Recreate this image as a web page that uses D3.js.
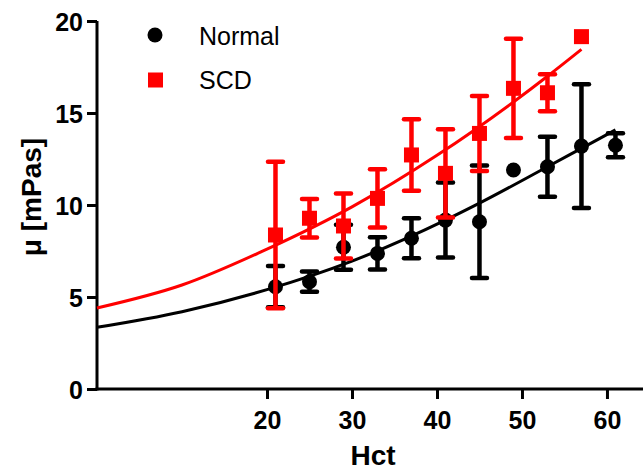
<!DOCTYPE html>
<html>
<head>
<meta charset="utf-8">
<script src="https://cdn.jsdelivr.net/npm/d3@7"></script>
<style>
  body { margin: 0; background: #fff; }
  svg { display: block; font-family: Arial, "Liberation Sans", sans-serif; }
</style>
</head>
<body>
<div id="chart"></div>
<script>
const W = 643;
const H = 473;

// measured values
const hctNormal = [21, 25, 29, 33, 37, 41, 45, 49, 53, 57, 61];
const muNormal = [5.56, 5.83, 7.7, 7.37, 8.19, 9.18, 9.09, 11.9, 12.08, 13.2, 13.25];
const errNormal = [1.12, 0.55, 1.22, 0.88, 1.09, 2.04, 3.06, 0, 1.63, 3.36, 0.65];

const hctSCD = [21, 25, 29, 33, 37, 41, 45, 49, 53, 57];
const muSCD = [8.37, 9.28, 8.86, 10.36, 12.72, 11.72, 13.89, 16.34, 16.1, 19.15];
const errSCD = [3.98, 1.05, 1.77, 1.58, 1.94, 2.4, 2.04, 2.7, 1.0, 0];

// fitted curves
const fitNormalX = [0, 10, 20, 30, 41, 45, 53, 57, 61];
const fitNormalY = [3.35, 4.2, 5.4, 6.95, 9.18, 10.1, 12.08, 13.08, 14.08];
const fitSCDX = [0, 10, 20, 30, 40, 49, 53, 57];
const fitSCDY = [4.4, 5.65, 7.6, 9.9, 12.7, 15.6, 17.0, 18.46];

const xTicks = [20, 30, 40, 50, 60];
const yTicks = [0, 5, 10, 15, 20];

const LEFT = 97, RIGHT = 643, TOP = 21, BOTTOM = 389;

const x = d3.scaleLinear().domain([0, 64.24]).range([LEFT, RIGHT]);
const y = d3.scaleLinear().domain([0, 20]).range([BOTTOM, TOP]);

const svg = d3.select("#chart").append("svg")
  .attr("width", W).attr("height", H);

// axes
const xAxis = svg.append("g")
  .attr("transform", `translate(0,${BOTTOM})`)
  .call(d3.axisBottom(x).tickValues(xTicks).tickSize(10).tickPadding(12).tickSizeOuter(0));
const yAxis = svg.append("g")
  .attr("transform", `translate(${LEFT},0)`)
  .call(d3.axisLeft(y).tickValues(yTicks).tickSize(10).tickPadding(4).tickSizeOuter(0));

[xAxis, yAxis].forEach(g => {
  g.select(".domain").attr("stroke", "#000").attr("stroke-width", 3);
  g.selectAll(".tick line").attr("stroke", "#000").attr("stroke-width", 3);
  g.selectAll(".tick text")
    .attr("fill", "#000")
    .style("font-size", "25px")
    .style("font-weight", "bold");
});
xAxis.select(".domain").attr("d", `M${LEFT - 1.5},0H${RIGHT}`);
yAxis.select(".domain").attr("d", `M0,${TOP}V${BOTTOM + 1.5}`);
yAxis.selectAll(".tick text").attr("dy", "0.36em");

// axis labels
svg.append("text")
  .attr("x", 373).attr("y", 465)
  .attr("text-anchor", "middle")
  .style("font-size", "28px").style("font-weight", "bold")
  .text("Hct");

svg.append("text")
  .attr("transform", "translate(41,197) rotate(-90)")
  .attr("text-anchor", "middle")
  .style("font-size", "28px").style("font-weight", "bold")
  .text("μ [mPas]");

const line = d3.line()
  .x(d => x(d[0]))
  .y(d => y(d[1]))
  .curve(d3.curveMonotoneX);

function drawSeries(xs, ys, errs, fx, fy, color, shape) {
  const pts = xs.map((v, i) => ({ x: v, y: ys[i], e: errs[i] }));
  const g = svg.append("g");

  g.append("path")
    .datum(fx.map((v, i) => [v, fy[i]]))
    .attr("d", line)
    .attr("fill", "none")
    .attr("stroke", color)
    .attr("stroke-width", 3);

  const bars = g.selectAll(".err").data(pts.filter(d => d.e > 0)).join("g");
  bars.append("line")
    .attr("x1", d => x(d.x)).attr("x2", d => x(d.x))
    .attr("y1", d => y(d.y + d.e)).attr("y2", d => y(d.y - d.e))
    .attr("stroke", color).attr("stroke-width", 4.5);
  [1, -1].forEach(s => {
    bars.append("line")
      .attr("x1", d => x(d.x) - 7.5).attr("x2", d => x(d.x) + 7.5)
      .attr("y1", d => y(d.y + s * d.e)).attr("y2", d => y(d.y + s * d.e))
      .attr("stroke", color).attr("stroke-width", 4.5)
      .attr("stroke-linecap", "round");
  });

  if (shape === "circle") {
    g.selectAll(".pt").data(pts).join("circle")
      .attr("cx", d => x(d.x)).attr("cy", d => y(d.y))
      .attr("r", 7.5).attr("fill", color);
  } else {
    g.selectAll(".pt").data(pts).join("rect")
      .attr("x", d => x(d.x) - 7.5).attr("y", d => y(d.y) - 7.5)
      .attr("width", 15).attr("height", 15).attr("fill", color);
  }
}

drawSeries(hctNormal, muNormal, errNormal, fitNormalX, fitNormalY, "#000", "circle");
drawSeries(hctSCD, muSCD, errSCD, fitSCDX, fitSCDY, "#ff0000", "square");

// legend
const legend = svg.append("g");
legend.append("circle").attr("cx", 155).attr("cy", 35).attr("r", 7.5).attr("fill", "#000");
legend.append("rect").attr("x", 148).attr("y", 72.5).attr("width", 15).attr("height", 15).attr("fill", "#ff0000");
legend.append("text").attr("x", 199).attr("y", 45)
  .style("font-size", "25px").text("Normal");
legend.append("text").attr("x", 199).attr("y", 89)
  .style("font-size", "25px").text("SCD");
</script>
</body>
</html>
